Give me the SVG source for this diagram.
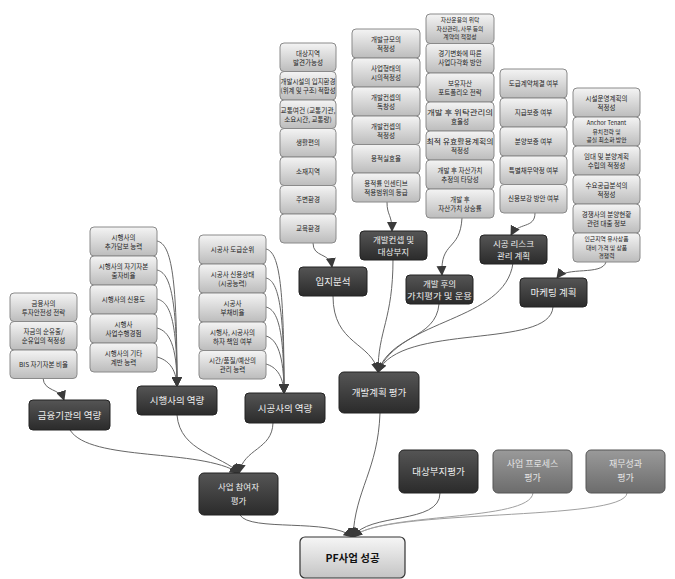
<svg xmlns="http://www.w3.org/2000/svg" width="675" height="579" viewBox="0 0 675 579">
<defs>
<linearGradient id="gl" x1="0" y1="0" x2="0" y2="1"><stop offset="0" stop-color="#f4f4f4"/><stop offset="1" stop-color="#bcbcbc"/></linearGradient>
<linearGradient id="gd" x1="0" y1="0" x2="0" y2="1"><stop offset="0" stop-color="#555"/><stop offset="1" stop-color="#2b2b2b"/></linearGradient>
<linearGradient id="gm" x1="0" y1="0" x2="0" y2="1"><stop offset="0" stop-color="#9a9a9a"/><stop offset="1" stop-color="#6c6c6c"/></linearGradient>
<linearGradient id="gp" x1="0" y1="0" x2="0" y2="1"><stop offset="0" stop-color="#f6f6f6"/><stop offset="1" stop-color="#c4c4c4"/></linearGradient>
<marker id="ar" viewBox="0 0 10 10" refX="9" refY="5" markerWidth="10" markerHeight="10" markerUnits="userSpaceOnUse" orient="auto"><path d="M0,0 L10,5 L0,10 z" fill="#3a3a3a"/></marker>
</defs>
<style>
text{font-family:"Noto Sans CJK KR","Noto Sans",sans-serif;text-anchor:middle}
.l rect{fill:url(#gl);stroke:#8a8a8a;stroke-width:1}
.l text{font-size:6.5px;fill:#222}
.l text.s{font-size:5.8px}
.d rect{fill:url(#gd);stroke:#222;stroke-width:1}
.d text{font-size:9.5px;fill:#eee}
.d text.t{font-size:8.5px}
.m rect{fill:url(#gm);stroke:#555;stroke-width:1}
.m text{font-size:9px;fill:#e4e4e4}
.p rect{fill:url(#gp);stroke:#333;stroke-width:1.2}
.p text{font-size:10.5px;fill:#111;font-weight:bold}
#conn path{fill:none;stroke:#666;stroke-width:1;marker-end:url(#ar)}
#conn path.g{stroke:#a0a0a0}
</style>
<rect width="675" height="579" fill="#fff"/>

<g id="conn">
<path d="M313,243 C313,258 330,252 332,267"/>
<path d="M387,202 C387,216 392,214 392,231"/>
<path d="M462,218 C460,252 440,240 442,275"/>
<path d="M535,213 C535,229 518,222 511,235"/>
<path d="M606,262 C602,276 566,266 557,278"/>
<path d="M157,241 C172,244 177,280 177,386"/>
<path d="M157,270 C171,273 177,300 177,386"/>
<path d="M157,299 C170,302 177,320 177,386"/>
<path d="M157,328 C169,331 177,345 177,386"/>
<path d="M157,357 C168,360 176,368 177,386"/>
<path d="M266,249 C280,252 284,290 284,393"/>
<path d="M266,278 C279,281 284,310 284,393"/>
<path d="M266,307 C278,310 284,330 284,393"/>
<path d="M266,336 C277,339 284,355 284,393"/>
<path d="M266,364 C276,367 283,375 284,393"/>
<path d="M43,378 C44,392 60,388 64,400"/>
<path d="M333,296 C333,345 372,342 378,372"/>
<path d="M393,259 C393,320 378,330 378,372"/>
<path d="M439,304 C436,340 390,335 378,372"/>
<path d="M513,263 C505,322 400,318 378,372"/>
<path d="M553,307 C550,350 400,322 378,372"/>
<path d="M70,430 C90,462 200,448 239,473"/>
<path d="M177,415 C180,452 222,455 239,473"/>
<path d="M273,423 C272,450 244,448 239,473"/>
<path d="M380,413 C378,470 355,490 353,537"/>
<path d="M240,515 C250,532 330,518 353,537"/>
<path d="M440,493 C440,525 368,512 353,537"/>
<path class="g" d="M533,493 C530,522 380,512 353,537"/>
<path class="g" d="M627,493 C625,522 380,508 353,537"/>
</g>

<g id="c1a" class="l"><rect x="280" y="43" width="56" height="28.5" rx="4"/><text x="308" y="55.5">대상지역</text><text x="308" y="64.5">발견가능성</text></g>
<g id="c1b" class="l"><rect x="280" y="71.5" width="56" height="28.5" rx="4"/><text x="308" y="84" textLength="55" lengthAdjust="spacingAndGlyphs">개발시설의 입지환경</text><text x="308" y="93" textLength="55" lengthAdjust="spacingAndGlyphs">(위계 및 구조) 적합성</text></g>
<g id="c1c" class="l"><rect x="280" y="100" width="56" height="28.5" rx="4"/><text x="308" y="112.5" textLength="55" lengthAdjust="spacingAndGlyphs">교통여건 (교통기관,</text><text x="308" y="121.5">소요시간, 교통량)</text></g>
<g id="c1d" class="l"><rect x="280" y="128.5" width="56" height="28.5" rx="4"/><text x="308" y="145">생활편의</text></g>
<g id="c1e" class="l"><rect x="280" y="157" width="56" height="28.5" rx="4"/><text x="308" y="173.5">소재지역</text></g>
<g id="c1f" class="l"><rect x="280" y="185.5" width="56" height="28.5" rx="4"/><text x="308" y="202">주변환경</text></g>
<g id="c1g" class="l"><rect x="280" y="214" width="56" height="29" rx="4"/><text x="308" y="230.5">교육환경</text></g>

<g id="c2a" class="l"><rect x="352" y="29" width="68" height="29" rx="4"/><text x="386" y="41.5">개발규모의</text><text x="386" y="50.5">적정성</text></g>
<g id="c2b" class="l"><rect x="352" y="58" width="68" height="29" rx="4"/><text x="386" y="70.5">사업형태의</text><text x="386" y="79.5">시의적정성</text></g>
<g id="c2c" class="l"><rect x="352" y="87" width="68" height="29" rx="4"/><text x="386" y="99.5">개발컨셉의</text><text x="386" y="108.5">독창성</text></g>
<g id="c2d" class="l"><rect x="352" y="116" width="68" height="28.5" rx="4"/><text x="386" y="128.5">개발컨셉의</text><text x="386" y="137.5">적정성</text></g>
<g id="c2e" class="l"><rect x="352" y="144.5" width="68" height="28.5" rx="4"/><text x="386" y="161">용적실효율</text></g>
<g id="c2f" class="l"><rect x="352" y="173" width="68" height="29" rx="4"/><text x="386" y="185.5">용적률 인센티브</text><text x="386" y="194.5">적용범위의 등급</text></g>

<g id="c3a" class="l"><rect x="426" y="14" width="68" height="29.5" rx="4"/><text class="s" x="460" y="22">자산운용의 위탁</text><text class="s" x="460" y="30.5">자산관리, 사무 등의</text><text class="s" x="460" y="39">계약의 적정성</text></g>
<g id="c3b" class="l"><rect x="426" y="43.5" width="68" height="29.5" rx="4"/><text x="460" y="56">경기변화에 따른</text><text x="460" y="65">사업다각화 방안</text></g>
<g id="c3c" class="l"><rect x="426" y="73" width="68" height="29" rx="4"/><text x="460" y="85.5">보유자산</text><text x="460" y="94.5">포트폴리오 전략</text></g>
<g id="c3d" class="l"><rect x="426" y="102" width="68" height="29" rx="4"/><text x="460" y="114.5" textLength="66" lengthAdjust="spacingAndGlyphs">개발 후 위탁관리의</text><text x="460" y="123.5">효율성</text></g>
<g id="c3e" class="l"><rect x="426" y="131" width="68" height="29" rx="4"/><text x="460" y="143.5" textLength="67" lengthAdjust="spacingAndGlyphs">최적 유효활용계획의</text><text x="460" y="152.5">적정성</text></g>
<g id="c3f" class="l"><rect x="426" y="160" width="68" height="29" rx="4"/><text x="460" y="172.5">개발 후 자산가치</text><text x="460" y="181.5">추정의 타당성</text></g>
<g id="c3g" class="l"><rect x="426" y="189" width="68" height="29" rx="4"/><text x="460" y="201.5">개발 후</text><text x="460" y="210.5">자산가치 상승률</text></g>

<g id="c4a" class="l"><rect x="500" y="69" width="67" height="29" rx="4"/><text x="533.5" y="85.5">도급계약체결 여부</text></g>
<g id="c4b" class="l"><rect x="500" y="98" width="67" height="29" rx="4"/><text x="533.5" y="114.5">지급보증 여부</text></g>
<g id="c4c" class="l"><rect x="500" y="127" width="67" height="29" rx="4"/><text x="533.5" y="143.5">분양보증 여부</text></g>
<g id="c4d" class="l"><rect x="500" y="156" width="67" height="28.5" rx="4"/><text x="533.5" y="172.5">특별채무약정 여부</text></g>
<g id="c4e" class="l"><rect x="500" y="184.5" width="67" height="28.5" rx="4"/><text x="533.5" y="201">신용보강 방안 여부</text></g>

<g id="c5a" class="l"><rect x="573" y="88" width="67" height="29" rx="4"/><text x="606.5" y="100.5">시설운영계획의</text><text x="606.5" y="109.5">적정성</text></g>
<g id="c5b" class="l"><rect x="573" y="117" width="67" height="29" rx="4"/><text class="s" x="606.5" y="125">Anchor Tenant</text><text class="s" x="606.5" y="133.5">유치전략 및</text><text class="s" x="606.5" y="142">공실 최소화 방안</text></g>
<g id="c5c" class="l"><rect x="573" y="146" width="67" height="29" rx="4"/><text x="606.5" y="158.5">임대 및 분양계획</text><text x="606.5" y="167.5">수립의 적정성</text></g>
<g id="c5d" class="l"><rect x="573" y="175" width="67" height="29" rx="4"/><text x="606.5" y="187.5">수요공급분석의</text><text x="606.5" y="196.5">적정성</text></g>
<g id="c5e" class="l"><rect x="573" y="204" width="67" height="29" rx="4"/><text x="606.5" y="216.5">경쟁사의 분양현황</text><text x="606.5" y="225.5">관련 대출 정보</text></g>
<g id="c5f" class="l"><rect x="573" y="233" width="67" height="29" rx="4"/><text class="s" x="606.5" y="241">인근지역 유사상품</text><text class="s" x="606.5" y="249.5">대비 가격 및 상품</text><text class="s" x="606.5" y="258">경쟁력</text></g>

<g id="f1" class="l"><rect x="10" y="293" width="67" height="28.5" rx="4"/><text x="43.5" y="305.5">금융사의</text><text x="43.5" y="314.5">투자안전성 전략</text></g>
<g id="f2" class="l"><rect x="10" y="321.5" width="67" height="28.5" rx="4"/><text x="43.5" y="334">자금의 순유출/</text><text x="43.5" y="343">순유입의 적정성</text></g>
<g id="f3" class="l"><rect x="10" y="350" width="67" height="28.5" rx="4"/><text x="43.5" y="366.5">BIS 자기자본 비율</text></g>

<g id="s1" class="l"><rect x="90" y="227" width="67" height="29" rx="4"/><text x="123.5" y="239.5">시행사의</text><text x="123.5" y="248.5">추가담보 능력</text></g>
<g id="s2" class="l"><rect x="90" y="256" width="67" height="29" rx="4"/><text x="123.5" y="268.5">시행사의 자기자본</text><text x="123.5" y="277.5">출자비율</text></g>
<g id="s3" class="l"><rect x="90" y="285" width="67" height="29" rx="4"/><text x="123.5" y="301.5">시행사의 신용도</text></g>
<g id="s4" class="l"><rect x="90" y="314" width="67" height="29" rx="4"/><text x="123.5" y="326.5">시행사</text><text x="123.5" y="335.5">사업수행경험</text></g>
<g id="s5" class="l"><rect x="90" y="343" width="67" height="29" rx="4"/><text x="123.5" y="355.5">시행사의 기타</text><text x="123.5" y="364.5">계반 능력</text></g>

<g id="g1" class="l"><rect x="199" y="235" width="67" height="29" rx="4"/><text x="232.5" y="251.5">시공사 도급순위</text></g>
<g id="g2" class="l"><rect x="199" y="264" width="67" height="29" rx="4"/><text x="232.5" y="276.5">시공사 신용상태</text><text x="232.5" y="285.5">(시공능력)</text></g>
<g id="g3" class="l"><rect x="199" y="293" width="67" height="29" rx="4"/><text x="232.5" y="305.5">시공사</text><text x="232.5" y="314.5">부채비율</text></g>
<g id="g4" class="l"><rect x="199" y="322" width="67" height="28.5" rx="4"/><text x="232.5" y="334.5">시행사, 시공사의</text><text x="232.5" y="343.5">하자 책임 여부</text></g>
<g id="g5" class="l"><rect x="199" y="350.5" width="67" height="28.5" rx="4"/><text x="232.5" y="363">시간/품질/예산의</text><text x="232.5" y="372">관리 능력</text></g>

<g id="n_ipji" class="d"><rect x="299" y="267" width="68" height="29" rx="4"/><text x="333" y="285">입지분석</text></g>
<g id="n_concept" class="d"><rect x="360" y="231" width="67" height="29" rx="4"/><text class="t" x="393.5" y="242.5">개발컨셉 및</text><text class="t" x="393.5" y="255">대상부지</text></g>
<g id="n_value" class="d"><rect x="406" y="275" width="67" height="29" rx="4"/><text class="t" x="439.5" y="286.5">개발 후의</text><text class="t" x="439.5" y="299" textLength="65" lengthAdjust="spacingAndGlyphs">가치평가 및 운용</text></g>
<g id="n_risk" class="d"><rect x="480" y="235" width="67" height="29" rx="4"/><text class="t" x="513.5" y="246.5">시공 리스크</text><text class="t" x="513.5" y="259">관리 계획</text></g>
<g id="n_mkt" class="d"><rect x="520" y="278" width="67" height="29" rx="4"/><text x="553.5" y="296">마케팅 계획</text></g>
<g id="n_plan" class="d"><rect x="339" y="372" width="80" height="41" rx="5"/><text x="379" y="396">개발계획 평가</text></g>
<g id="n_fin" class="d"><rect x="29" y="400" width="81" height="30" rx="4"/><text x="69.5" y="418.5">금융기관의 역량</text></g>
<g id="n_dev" class="d"><rect x="137" y="386" width="80" height="29" rx="4"/><text x="177" y="404">시행사의 역량</text></g>
<g id="n_con" class="d"><rect x="245" y="393" width="80" height="30" rx="4"/><text x="285" y="411.5">시공사의 역량</text></g>
<g id="n_part" class="d"><rect x="199" y="473" width="79" height="42" rx="5"/><text class="t" x="238.5" y="490">사업 참여자</text><text class="t" x="238.5" y="503.5">평가</text></g>
<g id="n_site" class="d"><rect x="399" y="450" width="79" height="43" rx="5"/><text x="438.5" y="475">대상부지평가</text></g>
<g id="n_proc" class="m"><rect x="493" y="450" width="79" height="43" rx="5"/><text x="532.5" y="467">사업 프로세스</text><text x="532.5" y="481">평가</text></g>
<g id="n_perf" class="m"><rect x="586" y="450" width="79" height="43" rx="5"/><text x="625.5" y="467">재무성과</text><text x="625.5" y="481">평가</text></g>
<g id="n_pf" class="p"><rect x="300" y="537" width="105" height="41" rx="5"/><text x="352.5" y="561.5">PF사업 성공</text></g>
</svg>
